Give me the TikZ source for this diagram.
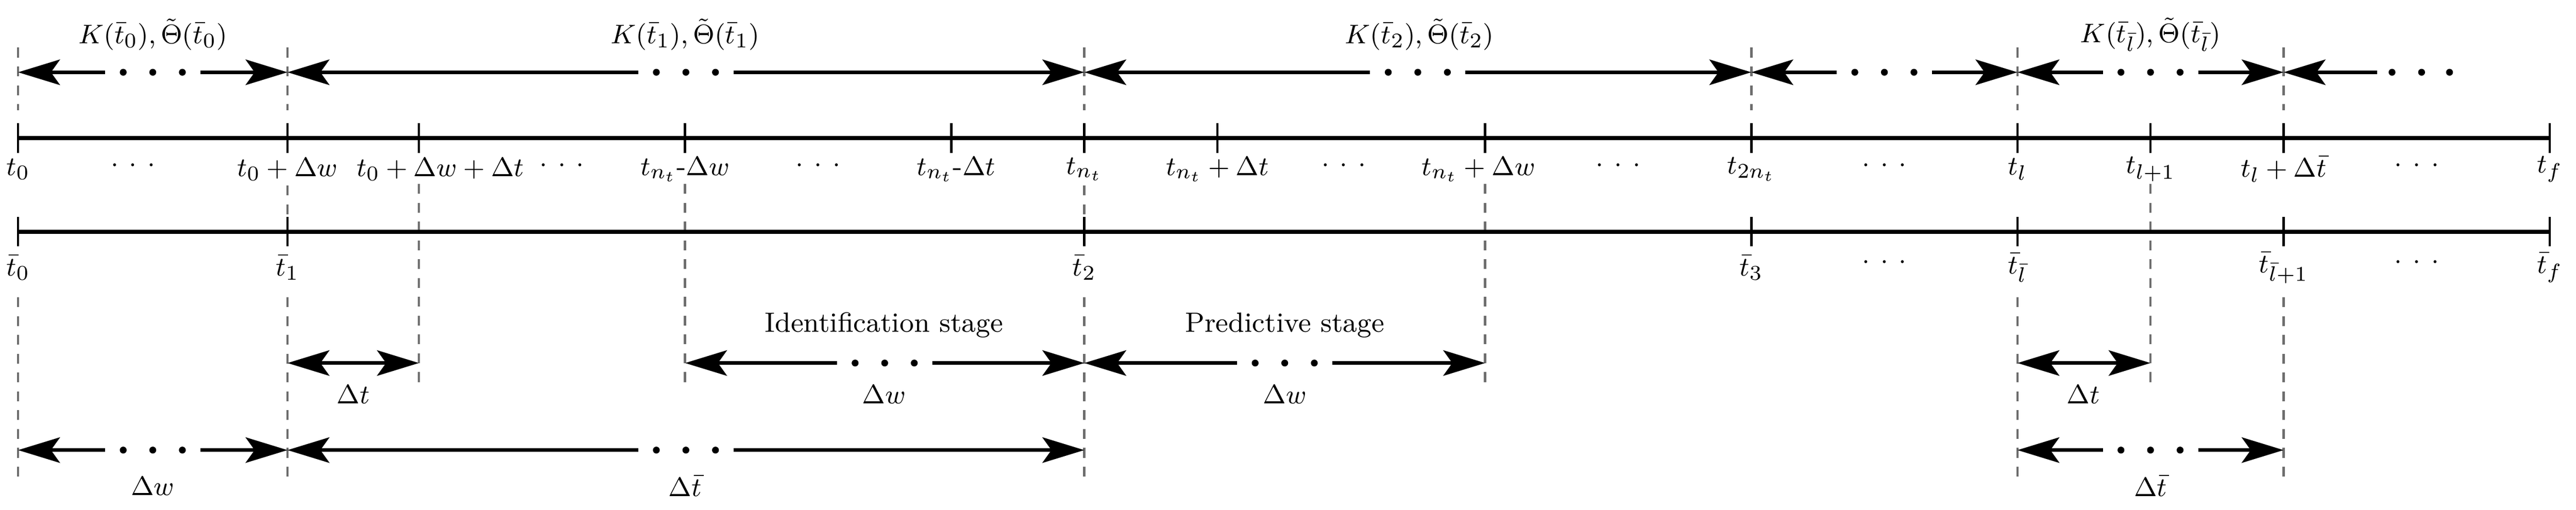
\documentclass[tikz,border=0pt]{standalone}
\usetikzlibrary{arrows.meta,calc}
\definecolor{dgray}{HTML}{6E6E6E}
\newcommand\dotarr[2]{%
  \draw[arr,{Stealth[length=14pt,width=8.5pt,inset=3pt]}-] (#1) -- ($(#1)!0.5!(#2)+(-29,0)$);
  \draw[arr,-{Stealth[length=14pt,width=8.5pt,inset=3pt]}] ($(#1)!0.5!(#2)+(29,0)$) -- (#2);
  \foreach \d in {-18,0,18} \fill ($(#1)!0.5!(#2)+(\d,0)$) circle[radius=1.15pt];}
\newcommand\tdots{$\cdot$\hspace{3.6pt}$\cdot$\hspace{3.6pt}$\cdot$}
\begin{document}
\begin{tikzpicture}[x=0.55pt,y=-0.55pt,
  arr/.style={line width=1.2pt},
  dbl/.style={line width=1.2pt,{Stealth[length=14pt,width=8.5pt,inset=3pt]}-{Stealth[length=14pt,width=8.5pt,inset=3pt]}},
  bar/.style={line width=1.4pt},
  tick/.style={line width=0.8pt},
  dsh/.style={dgray,line width=0.8pt,dash pattern=on 3.3pt off 3pt},
  lab/.style={inner sep=0pt,font=\fontsize{9.3}{11}\selectfont}]
\useasboundingbox (0,0) rectangle (1568,310.4);
% dashed guides
\foreach \x in {11,175,660,1066,1228,1390} \draw[dsh] (\x,29) -- (\x,67);
\foreach \x in {175,660} \draw[dsh] (\x,113) -- (\x,134);
\foreach \x in {11,175,660,1228,1390} \draw[dsh] (\x,181) -- (\x,292);
\foreach \x in {255,417,904,1309} \draw[dsh] (\x,112) -- (\x,233);
% timelines
\coordinate (b1s) at (11,84); \coordinate (b1e) at (1552,84);
\coordinate (b2s) at (11,141); \coordinate (b2e) at (1552,141);
\draw[bar] (b1s) -- (b1e);
\draw[bar] (b2s) -- (b2e);
\foreach \x in {11,175,255,417,579,660,741,904,1066,1228,1309,1390,1552} \draw[tick] (\x,75) -- (\x,93);
\foreach \x in {11,175,660,1066,1228,1390,1552} \draw[tick] (\x,132) -- (\x,150);
% timeline 1 labels
\node[lab] (l1) at (11,103) {$t_0$};
\node[lab] (l2) at (81,101) {\tdots};
\node[lab] (l3) at (175,103) {$t_0+\Delta w$};
\node[lab] (l4) at (268,103) {$t_0+\Delta w+\Delta t$};
\node[lab] (l5) at (342,101) {\tdots};
\node[lab] (l6) at (417,103) {$t_{n_t}$-$\Delta w$};
\node[lab] (l7) at (498,101) {\tdots};
\node[lab] (l8) at (582,103) {$t_{n_t}$-$\Delta t$};
\node[lab] (l9) at (660,103) {$t_{n_t}$};
\node[lab] (l10) at (741,103) {$t_{n_t}+\Delta t$};
\node[lab] (l11) at (818,101) {\tdots};
\node[lab] (l12) at (900,103) {$t_{n_t}+\Delta w$};
\node[lab] (l13) at (985,101) {\tdots};
\node[lab] (l14) at (1066,103) {$t_{2n_t}$};
\node[lab] (l15) at (1147,101) {\tdots};
\node[lab] (l16) at (1228,103) {$t_l$};
\node[lab] (l17) at (1309,103) {$t_{l+1}$};
\node[lab] (l18) at (1390,103) {$t_l+\Delta\bar{t}$};
\node[lab] (l19) at (1471,101) {\tdots};
\node[lab] (l20) at (1552,103) {$t_f$};
% timeline 2 labels
\node[lab] (m1) at (11,163) {$\bar{t}_0$};
\node[lab] (m2) at (175,163) {$\bar{t}_1$};
\node[lab] (m3) at (660,163) {$\bar{t}_2$};
\node[lab] (m4) at (1066,163) {$\bar{t}_3$};
\node[lab] (m5) at (1147,160) {\tdots};
\node[lab] (m6) at (1228,163) {$\bar{t}_{\bar{l}}$};
\node[lab] (m7) at (1390,163) {$\bar{t}_{\bar{l}+1}$};
\node[lab] (m8) at (1471,160) {\tdots};
\node[lab] (m9) at (1552,163) {$\bar{t}_f$};
% top arrows
\foreach \n/\x in {p0/11,p1/175,p2/660,p3/1066,p4/1228,p5/1390} \coordinate (\n) at (\x,44);
\dotarr{p0}{p1}
\dotarr{p1}{p2}
\dotarr{p2}{p3}
\dotarr{p3}{p4}
\dotarr{p4}{p5}
\coordinate (p6) at (1447,44);
\draw[arr,{Stealth[length=14pt,width=8.5pt,inset=3pt]}-] (p5) -- (p6);
\foreach \x in {1456,1474,1491} \fill (\x,44) circle[radius=1.15pt];
\node[lab] (k0) at (93,21) {$K(\bar{t}_0),\tilde{\Theta}(\bar{t}_0)$};
\node[lab] (k1) at (417,21) {$K(\bar{t}_1),\tilde{\Theta}(\bar{t}_1)$};
\node[lab] (k2) at (864,21) {$K(\bar{t}_2),\tilde{\Theta}(\bar{t}_2)$};
\node[lab] (k3) at (1309,21) {$K(\bar{t}_{\bar{l}}),\tilde{\Theta}(\bar{t}_{\bar{l}})$};
% middle arrows
\foreach \n/\x in {q1/175,q2/255,q3/417,q4/660,q5/904,q6/1228,q7/1309} \coordinate (\n) at (\x,221);
\draw[dbl] (q1) -- (q2);
\dotarr{q3}{q4}
\dotarr{q4}{q5}
\draw[dbl] (q6) -- (q7);
\node[lab] (s1) at (538,198) {Identification stage};
\node[lab] (s2) at (782,198) {Predictive stage};
\node[lab] (d1) at (215,240) {$\Delta t$};
\node[lab] (d2) at (538,240) {$\Delta w$};
\node[lab] (d3) at (782,240) {$\Delta w$};
\node[lab] (d4) at (1268,240) {$\Delta t$};
% bottom arrows
\foreach \n/\x in {r1/11,r2/175,r3/660,r4/1228,r5/1390} \coordinate (\n) at (\x,274);
\dotarr{r1}{r2}
\dotarr{r2}{r3}
\dotarr{r4}{r5}
\node[lab] (e1) at (93,296) {$\Delta w$};
\node[lab] (e2) at (417,296) {$\Delta\bar{t}$};
\node[lab] (e3) at (1309,296) {$\Delta\bar{t}$};
\end{tikzpicture}
\end{document}
